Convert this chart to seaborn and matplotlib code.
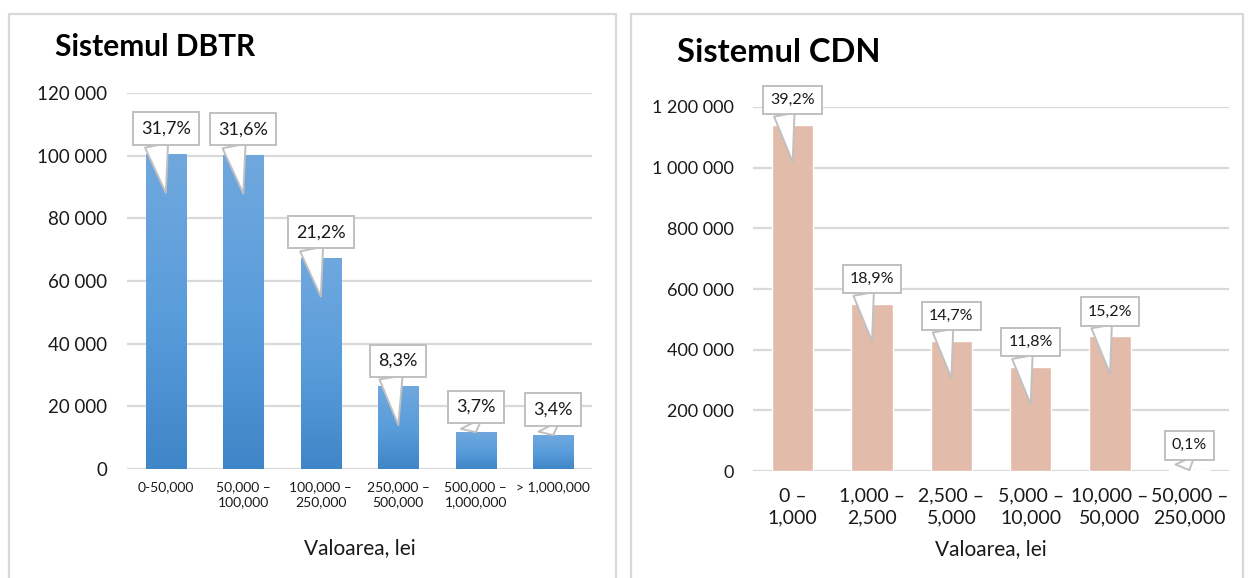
import matplotlib
matplotlib.use('Agg')
import matplotlib.pyplot as plt
import numpy as np
import pandas as pd
import seaborn as sns
from matplotlib.colors import LinearSegmentedColormap
from matplotlib.patches import Rectangle

# DBTR system
dbtr_cats = ['0-50,000', '50,000 –\n100,000', '100,000 –\n250,000',
             '250,000 –\n500,000', '500,000 –\n1,000,000', '> 1,000,000']
dbtr_vals = [100500, 100300, 67400, 26400, 11700, 10800]
dbtr_pct = ['31,7%', '31,6%', '21,2%', '8,3%', '3,7%', '3,4%']
dbtr_ticks = [0, 20000, 40000, 60000, 80000, 100000, 120000]

# CDN system
cdn_cats = ['0 –\n1,000', '1,000 –\n2,500', '2,500 –\n5,000',
            '5,000 –\n10,000', '10,000 –\n50,000', '50,000 –\n250,000']
cdn_vals = [1142000, 551000, 430000, 343000, 444000, 2900]
cdn_pct = ['39,2%', '18,9%', '14,7%', '11,8%', '15,2%', '0,1%']
cdn_ticks = [0, 200000, 400000, 600000, 800000, 1000000, 1200000]

sns.set_style('white')
plt.rcParams['font.family'] = ['Lato', 'DejaVu Sans']

GRID = '#d9d9d9'
TEXT = '#1a1a1a'


def fmt(v):
    return f'{v:,}'.replace(',', ' ')


def draw_panel(ax, cats, vals, pct, ticks, color, title, title_pos, title_fs,
               tick_fs, xt_fs, lab_fs, xt_pad, xl_pad, ls, gradient=False):
    df = pd.DataFrame({'cat': cats, 'val': vals})
    sns.barplot(data=df, x='cat', y='val', color=color, width=0.52,
                saturation=1, ax=ax, zorder=3)
    ymax = ticks[-1]
    ax.set_yticks(ticks)
    ax.set_yticklabels([fmt(t) for t in ticks], fontsize=tick_fs, color=TEXT)
    ax.set_xticks(range(len(cats)))
    ax.set_xticklabels(cats, fontsize=xt_fs, color=TEXT, linespacing=ls)
    ax.tick_params(axis='x', length=0, pad=xt_pad)
    ax.tick_params(axis='y', length=0, pad=14)
    for t in ticks:
        ax.axhline(t, color=GRID, lw=1.6, zorder=1)
    for s in ax.spines.values():
        s.set_visible(False)
    ax.set_xlabel('Valoarea, lei', fontsize=15, color=TEXT, labelpad=xl_pad)
    ax.set_ylabel('')

    if gradient:
        cmap = LinearSegmentedColormap.from_list('g', ['#3f86c8', '#5a9ddb', '#70a8de'])
        grad = np.linspace(0, 1, 256).reshape(-1, 1)
        for p in ax.patches:
            x0, w, h = p.get_x(), p.get_width(), p.get_height()
            im = ax.imshow(grad, extent=[x0, x0 + w, 0, h], origin='lower',
                           cmap=cmap, aspect='auto', zorder=3)
            im.set_clip_path(p)
    ax.set_xlim(-0.5, len(cats) - 0.5)
    ax.set_ylim(0, ymax)

    for i, (v, lab) in enumerate(zip(vals, pct)):
        tip = v - 0.103 * ymax if v > 0.17 * ymax else v
        ax.annotate(lab, xy=(i, tip), xytext=(i, v + 0.068 * ymax),
                    ha='center', va='center', fontsize=lab_fs, color=TEXT,
                    annotation_clip=False, zorder=5,
                    bbox=dict(boxstyle='square,pad=0.45', fc='white',
                              ec='#c0c0c0', lw=1.4),
                    arrowprops=dict(arrowstyle='wedge,tail_width=1.3,shrink_factor=0.5',
                                    fc='white', ec='#c0c0c0', lw=1.4,
                                    relpos=(0.28, 0.0), shrinkA=0, shrinkB=0))
    ax.text(title_pos[0], title_pos[1], title, transform=ax.transAxes,
            fontsize=title_fs, fontweight='bold', color='black',
            ha='left', va='center')


fig = plt.figure(figsize=(12.48, 5.78), dpi=100)
fig.patches.append(Rectangle((9 / 1248, -0.05), 607 / 1248, 1.05 - 14 / 578,
                             transform=fig.transFigure, fill=False,
                             ec='#d9d9d9', lw=1.6))
fig.patches.append(Rectangle((631 / 1248, -0.05), 612 / 1248, 1.05 - 14 / 578,
                             transform=fig.transFigure, fill=False,
                             ec='#d9d9d9', lw=1.6))

ax1 = fig.add_axes([0.1018, 0.1886, 0.3726, 0.6505])
ax2 = fig.add_axes([0.6034, 0.1851, 0.3814, 0.6298])
ax1.patch.set_alpha(0)
ax2.patch.set_alpha(0)

draw_panel(ax1, dbtr_cats, dbtr_vals, dbtr_pct, dbtr_ticks, '#5599d8',
           'Sistemul DBTR', (-0.155, 1.123), 21.5,
           tick_fs=13.5, xt_fs=10, lab_fs=13, xt_pad=9, xl_pad=22, ls=1.25,
           gradient=True)
draw_panel(ax2, cdn_cats, cdn_vals, cdn_pct, cdn_ticks, '#e2bbaa',
           'Sistemul CDN', (-0.16, 1.151), 23.5,
           tick_fs=13, xt_fs=14, lab_fs=11.5, xt_pad=12, xl_pad=9, ls=1.35)

fig.savefig('out.png', dpi=100)
